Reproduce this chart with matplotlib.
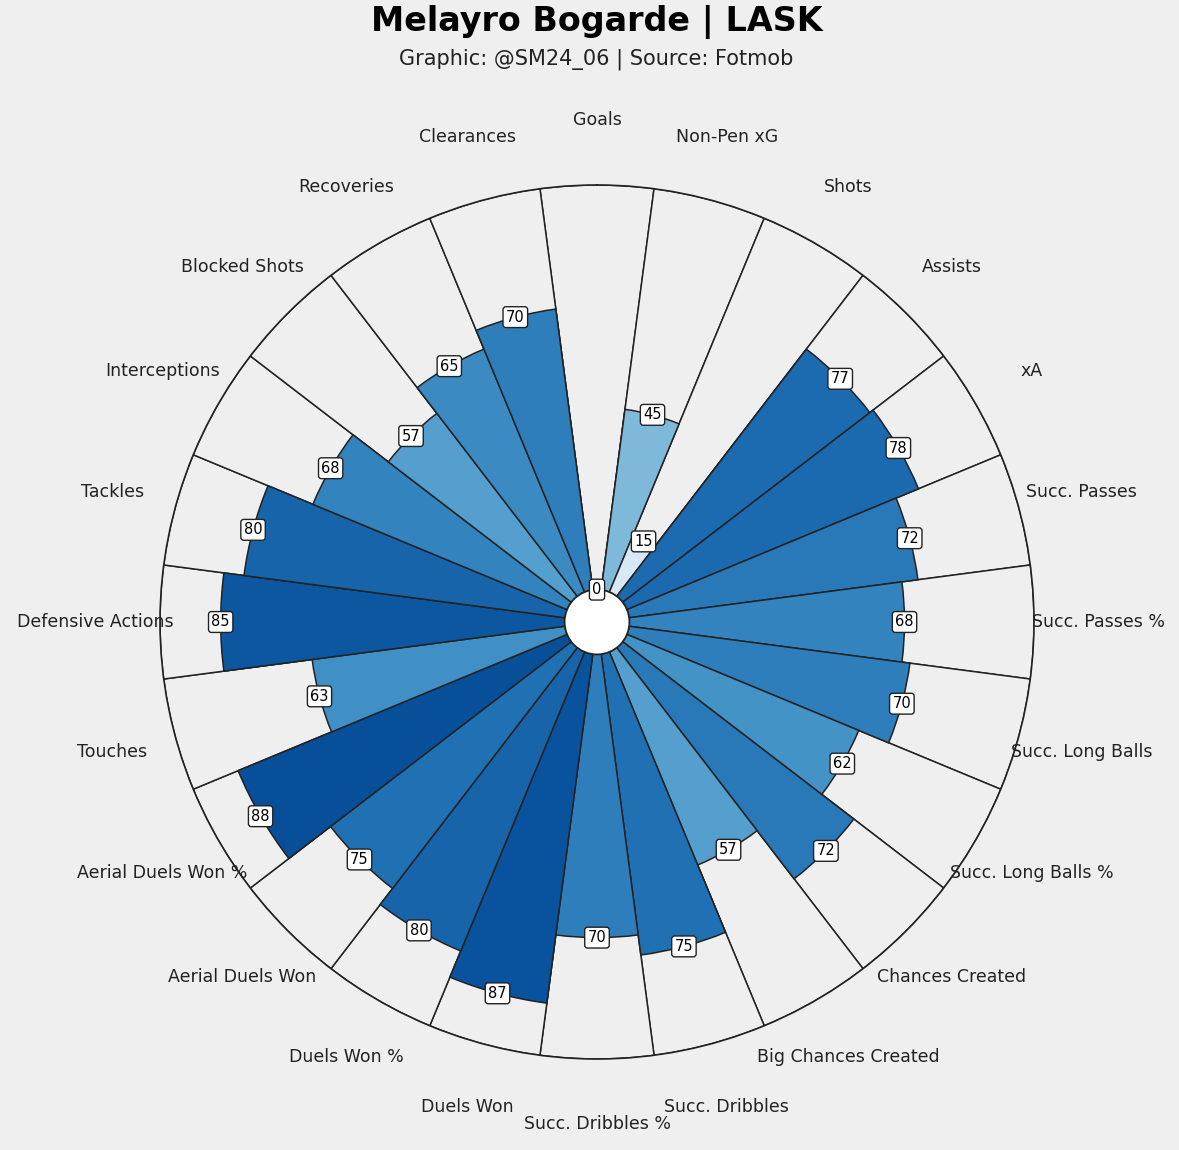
import numpy as np
import matplotlib
matplotlib.use("Agg")
import matplotlib.pyplot as plt

params = ["Goals", "Non-Pen xG", "Shots", "Assists", "xA", "Succ. Passes", "Succ. Passes %",
          "Succ. Long Balls", "Succ. Long Balls %", "Chances Created", "Big Chances Created",
          "Succ. Dribbles", "Succ. Dribbles %", "Duels Won", "Duels Won %", "Aerial Duels Won",
          "Aerial Duels Won %", "Touches", "Defensive Actions", "Tackles", "Interceptions",
          "Blocked Shots", "Recoveries", "Clearances"]
values = [0, 45, 15, 77, 78, 72, 68, 70, 62, 72, 57, 75, 70, 87, 80, 75, 88, 63, 85, 80, 68, 57, 65, 70]

bg = "#efefef"
fig = plt.figure(figsize=(11.79, 11.5), dpi=100, facecolor=bg)
W, H = 1179, 1150
cx, cy, R = 597, 622, 437
ax = fig.add_axes([(cx - R) / W, 1 - (cy + R) / H, 2 * R / W, 2 * R / H], projection="polar")
ax.set_facecolor(bg)
ax.set_theta_zero_location("N")
ax.set_theta_direction(-1)
hole = 8
n = len(params)
theta = np.arange(n) * 2 * np.pi / n
width = 2 * np.pi / n
ax.bar(theta, 100, width=width, bottom=hole, color=bg, edgecolor="#222222", linewidth=1.1, zorder=1)
cmap = plt.cm.Blues
ax.bar(theta, values, width=width, bottom=hole, color=[cmap(v / 100) for v in values],
       edgecolor="#222222", linewidth=1.1, zorder=2)
ax.set_ylim(0, hole + 100)
ax.set_xticks([]); ax.set_yticks([])
ax.grid(False)
ax.spines["polar"].set_color("#222222")
ax.spines["polar"].set_linewidth(1.2)
for t, v in zip(theta, values):
    ax.text(t, hole + v, str(v), ha="center", va="center", fontsize=10.5, zorder=5,
            bbox=dict(boxstyle="round,pad=0.2", fc="white", ec="#222222", lw=1))
for t, p in zip(theta, params):
    ax.text(t, 124, p, ha="center", va="center", fontsize=12.5, color="#222222", clip_on=False)
circ = plt.Circle((0, 0), hole, transform=ax.transData._b, color="white", ec="#222222", lw=1.2, zorder=4)
ax.add_artist(circ)

fig.text(0.506, 1 - 22 / H, "Melayro Bogarde | LASK", ha="center", va="center",
         fontsize=24, fontweight="bold")
fig.text(0.506, 1 - 59 / H, "Graphic: @SM24_06 | Source: Fotmob", ha="center", va="center",
         fontsize=15, color="#222222")
fig.savefig("out.png", dpi=100, facecolor=bg)
